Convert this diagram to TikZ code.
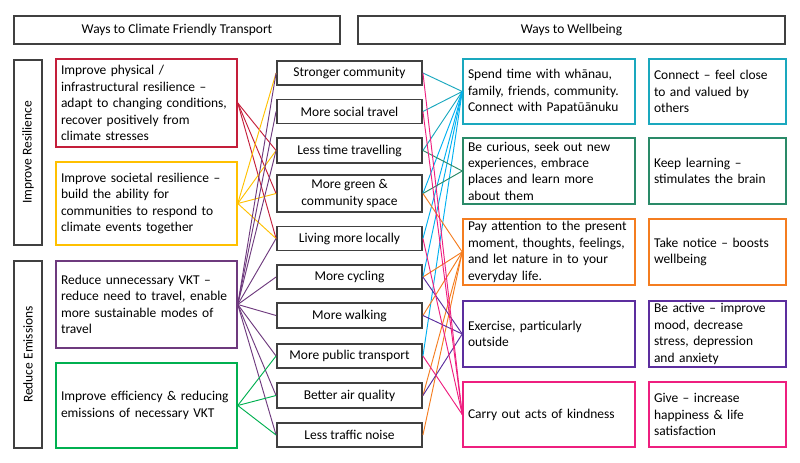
\documentclass[tikz,border=0pt]{standalone}
\usepackage{fontspec}
\setmainfont{Carlito}
\usepackage{tikz}

\definecolor{boxgrey}{HTML}{404040}
\definecolor{cRed}{HTML}{C41E3A}
\definecolor{cYellow}{HTML}{FFC000}
\definecolor{cPurple}{HTML}{6E3A7E}
\definecolor{cGreen}{HTML}{00B050}
\definecolor{cTeal}{HTML}{1AA8BE}
\definecolor{cSky}{HTML}{00B0F0}
\definecolor{cSea}{HTML}{2A8A68}
\definecolor{cOrange}{HTML}{F47D20}
\definecolor{cViolet}{HTML}{5C2E9E}
\definecolor{cPink}{HTML}{EE1F7F}

\begin{document}
\begin{tikzpicture}[
    every node/.style={font=\fontsize{11.5}{14}\selectfont},
    greybox/.style={draw=boxgrey, line width=1.6pt, inner sep=0pt},
    midbox/.style={greybox, minimum width=4.35cm, align=center},
    leftbox/.style={draw=#1, line width=1.3pt, minimum width=5.43cm, text width=5.13cm, inner xsep=0.15cm, inner ysep=1pt, align=left},
    rightbox/.style={draw=#1, line width=1.3pt, minimum width=5.16cm, text width=4.86cm, inner xsep=0.15cm, inner ysep=1pt, align=left},
    wellbox/.style={draw=#1, line width=1.3pt, minimum width=4.11cm, text width=3.81cm, inner xsep=0.15cm, inner ysep=1pt, align=left},
    link/.style={draw=#1, line width=0.8pt}
]
    \useasboundingbox (0,0) rectangle (24,-13.86);

    % Headers
    \node[greybox, minimum width=9.78cm, minimum height=0.84cm] (hdTransport) at (5.31,-0.9) {Ways to Climate Friendly Transport};
    \node[greybox, minimum width=12.81cm, minimum height=0.84cm] (hdWellbeing) at (17.145,-0.9) {Ways to Wellbeing};

    % Side labels
    \node[greybox, rotate=90, minimum width=5.55cm, minimum height=0.84cm] (resilience) at (0.84,-4.575) {Improve Resilience};
    \node[greybox, rotate=90, minimum width=5.61cm, minimum height=0.84cm] (emissions) at (0.84,-10.635) {Reduce Emissions};

    % Ways to climate friendly transport
    \node[leftbox=cRed, minimum height=2.64cm] (physical) at (4.395,-3.09) {Improve physical /\\infrastructural resilience –\\adapt to changing conditions,\\recover positively from\\climate stresses};
    \node[leftbox=cYellow, minimum height=2.49cm] (societal) at (4.395,-6.105) {Improve societal resilience –\\build the ability for\\communities to respond to\\climate events together};
    \node[leftbox=cPurple, minimum height=2.61cm] (vktUnnec) at (4.395,-9.135) {Reduce unnecessary VKT –\\reduce need to travel, enable\\more sustainable modes of\\travel};
    \node[leftbox=cGreen, minimum height=2.55cm] (vktEff) at (4.395,-12.165) {Improve efficiency \& reducing\\emissions of necessary VKT};

    % Outcomes in the middle
    \node[midbox, minimum height=0.72cm] (community) at (10.485,-2.19) {Stronger community};
    \node[midbox, minimum height=0.72cm] (social) at (10.485,-3.345) {More social travel};
    \node[midbox, minimum height=0.75cm] (lesstime) at (10.485,-4.515) {Less time travelling};
    \node[midbox, minimum height=1.11cm] (greenspace) at (10.485,-5.805) {More green \&\\community space};
    \node[midbox, minimum height=0.72cm] (local) at (10.485,-7.155) {Living more locally};
    \node[midbox, minimum height=0.72cm] (cycling) at (10.485,-8.31) {More cycling};
    \node[midbox, minimum height=0.75cm] (walking) at (10.485,-9.465) {More walking};
    \node[midbox, minimum height=0.72cm] (publictr) at (10.485,-10.68) {More public transport};
    \node[midbox, minimum height=0.75cm] (airq) at (10.485,-11.865) {Better air quality};
    \node[midbox, minimum height=0.72cm] (noise) at (10.485,-13.05) {Less traffic noise};

    % Ways to wellbeing
    \node[rightbox=cTeal, minimum height=1.95cm] (spendtime) at (16.47,-2.745) {Spend time with whānau,\\family, friends, community.\\Connect with Papatūānuku};
    \node[rightbox=cSea, minimum height=1.98cm] (curious) at (16.47,-5.13) {Be curious, seek out new\\experiences, embrace\\places and learn more\\about them};
    \node[rightbox=cOrange, minimum height=1.98cm] (attention) at (16.47,-7.56) {Pay attention to the present\\moment, thoughts, feelings,\\and let nature in to your\\everyday life.};
    \node[rightbox=cViolet, minimum height=1.98cm] (exercise) at (16.47,-10.02) {Exercise, particularly\\outside};
    \node[rightbox=cPink, minimum height=1.95cm] (kindness) at (16.47,-12.435) {Carry out acts of kindness};

    \node[wellbox=cTeal, minimum height=1.95cm] (connectW) at (21.525,-2.745) {Connect – feel close\\to and valued by\\others};
    \node[wellbox=cSea, minimum height=1.98cm] (learnW) at (21.525,-5.13) {Keep learning –\\stimulates the brain};
    \node[wellbox=cOrange, minimum height=1.98cm] (noticeW) at (21.525,-7.56) {Take notice – boosts\\wellbeing};
    \node[wellbox=cViolet, minimum height=1.98cm] (activeW) at (21.525,-10.02) {Be active – improve\\mood, decrease\\stress, depression\\and anxiety};
    \node[wellbox=cPink, minimum height=1.95cm] (giveW) at (21.525,-12.435) {Give – increase\\happiness \& life\\satisfaction};

    % Transport ways to outcomes
    \foreach \m in {lesstime,greenspace,local}
        \draw[link=cRed] (physical.east) -- (\m.west);
    \foreach \m in {community,lesstime,greenspace,local}
        \draw[link=cYellow] (societal.east) -- (\m.west);
    \foreach \m in {community,social,lesstime,local,cycling,walking,publictr,airq,noise}
        \draw[link=cPurple] (vktUnnec.east) -- (\m.west);
    \foreach \m in {publictr,airq,noise}
        \draw[link=cGreen] (vktEff.east) -- (\m.west);

    % Outcomes to wellbeing
    \foreach \m in {community,social,lesstime}
        \draw[link=cTeal] (\m.east) -- (spendtime.west);
    \foreach \m in {greenspace,local,cycling,publictr}
        \draw[link=cSky] (\m.east) -- (spendtime.west);
    \foreach \m in {lesstime,greenspace}
        \draw[link=cSea] (\m.east) -- (curious.west);
    \foreach \m in {greenspace,cycling,walking,airq,noise}
        \draw[link=cOrange] (\m.east) -- (attention.west);
    \foreach \m in {cycling,walking,airq}
        \draw[link=cViolet] (\m.east) -- (exercise.west);
    \foreach \m in {community,social,local,publictr}
        \draw[link=cPink] (\m.east) -- (kindness.west);

\end{tikzpicture}
\end{document}
